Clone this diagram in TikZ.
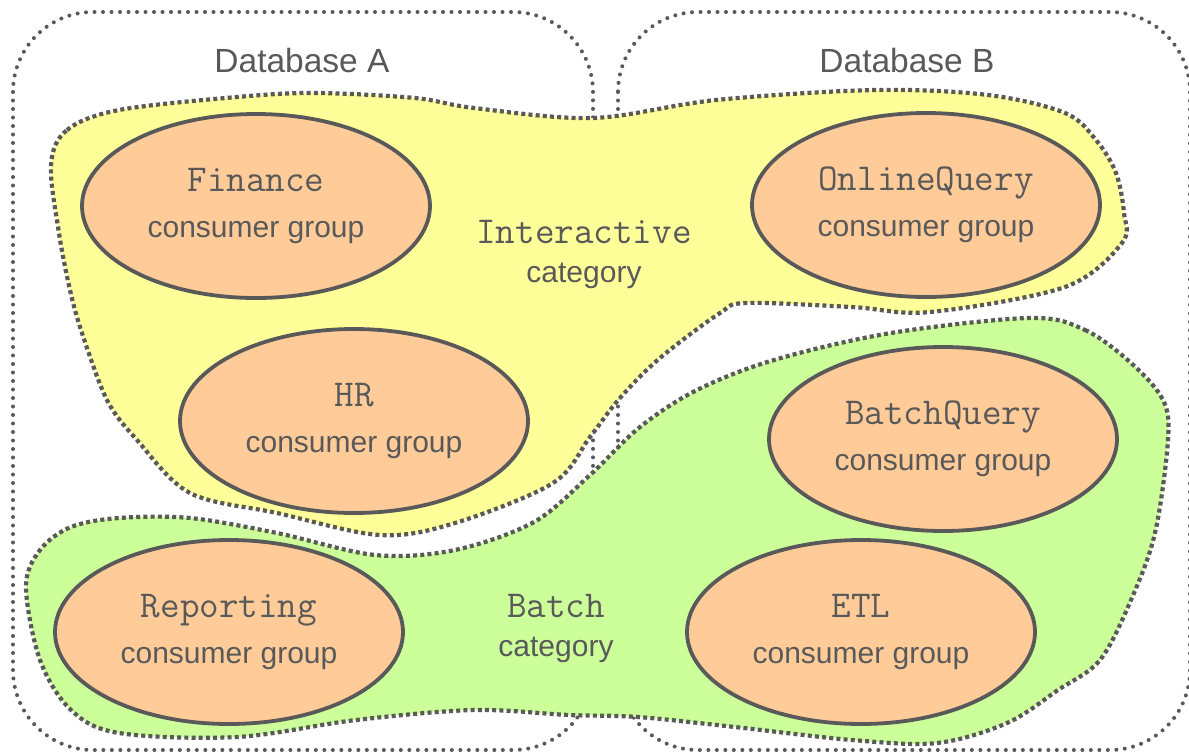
\documentclass[tikz,border=0pt]{standalone}
\usepackage{fontspec}
\setsansfont{Liberation Sans}
\usetikzlibrary{shapes.geometric}
\definecolor{ink}{HTML}{595959}
\definecolor{yel}{HTML}{FFFF99}
\definecolor{grn}{HTML}{CCFF99}
\definecolor{peach}{HTML}{FFCC99}
\newcommand\grpmono[1]{{\fontsize{38}{46}\selectfont\ttfamily #1}}
\tikzset{
  dbbox/.style={draw=ink, line width=4pt, line cap=round, dash pattern=on 0pt off 8.5pt, rounded corners=80pt},
  blob/.style={draw=ink, line width=4.2pt, dash pattern=on 4pt off 3.2pt},
  group/.style={ellipse, draw=ink, fill=peach, line width=3.8pt, minimum width=348pt, minimum height=184pt,
    inner sep=0pt, align=center, text=ink, font=\fontsize{30}{46}\selectfont\sffamily},
  catlabel/.style={align=center, text=ink, inner sep=0pt, font=\fontsize{30}{39}\selectfont\sffamily},
  dblabel/.style={text=ink, inner sep=0pt, font=\fontsize{33.5}{40}\selectfont\sffamily}
}
\begin{document}
\begin{tikzpicture}[x=1pt,y=-1pt]
\useasboundingbox (0,0) rectangle (1189,753);
\fill[white] (0,0) rectangle (1189,753);
% databases
\draw[dbbox] (13,12) rectangle (593,750);
\draw[dbbox] (618,12) rectangle (1190,750);
\node[dblabel] (dba) at (302,61) {Database A};
\node[dblabel] (dbb) at (907,61) {Database B};
% interactive category
\draw[blob, fill=yel] plot[smooth cycle, tension=0.55] coordinates {
 (51,165) (67,130) (119,110) (237,97) (316,93) (415,98) (474,108) (593,118) (716,100) (875,90)
 (988,95) (1065,113) (1096,140) (1116,173) (1124,213) (1122,243) (1065,287) (930,312) (852,307)
 (747,303) (720,313) (660,358) (620,398) (590,437) (553,483) (455,523) (380,535) (277,513)
 (190,493) (137,440) (107,400) (82,333) (70,290) (59,233)};
% batch category
\draw[blob, fill=grn] plot[smooth cycle, tension=0.55] coordinates {
 (1030,318) (1085,330) (1131,363) (1163,400) (1168,440) (1155,533) (1131,600) (1100,660)
 (1058,690) (1007,723) (937,743) (852,740) (735,727) (638,717) (569,715) (474,710) (356,720)
 (237,737) (119,733) (71,710) (40,660) (26,587) (40,550) (71,527) (119,518) (190,518)
 (277,533) (375,555) (455,550) (534,522) (590,475) (640,427) (697,390) (774,360) (891,333)};
% consumer groups
\node[group] (fin) at (256,206) {\grpmono{Finance}\\consumer group};
\node[group] (onl) at (926,205) {\grpmono{OnlineQuery}\\consumer group};
\node[group] (hr)  at (354,421) {\grpmono{HR}\\consumer group};
\node[group] (bq)  at (943,439) {\grpmono{BatchQuery}\\consumer group};
\node[group] (rep) at (229,632) {\grpmono{Reporting}\\consumer group};
\node[group] (etl) at (861,632) {\grpmono{ETL}\\consumer group};
% category labels
\node[catlabel] (intcat) at (584,254) {{\fontsize{38}{39}\selectfont\ttfamily Interactive}\\category};
\node[catlabel] (batcat) at (556,628) {{\fontsize{38}{39}\selectfont\ttfamily Batch}\\category};
\end{tikzpicture}
\end{document}
